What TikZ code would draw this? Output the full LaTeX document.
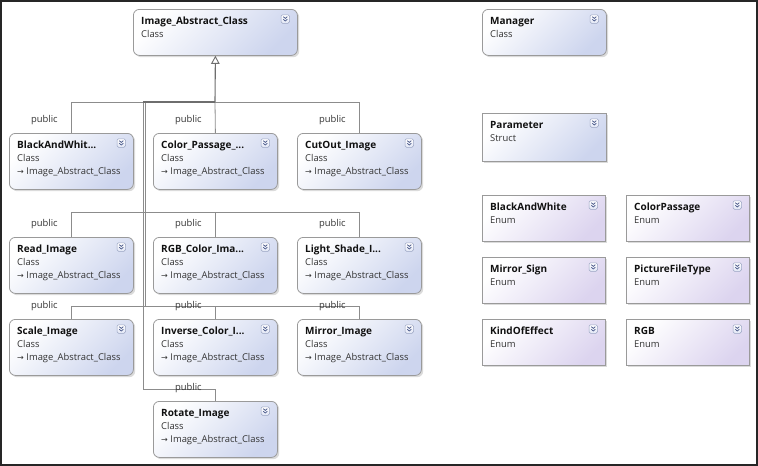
\documentclass[tikz,border=0pt]{standalone}
\usepackage{fontspec}
\setmainfont{Open Sans}
\newfontfamily\symfont{DejaVu Sans}
\usetikzlibrary{shadows,arrows.meta}

\definecolor{clsB}{HTML}{CDD5EE}
\definecolor{enmB}{HTML}{DCD4EF}
\definecolor{bdr}{HTML}{9A9A9A}
\definecolor{lnc}{HTML}{8C8C8C}
\definecolor{lnd}{HTML}{6E6E6E}
\definecolor{chb}{HTML}{9AA4C2}
\definecolor{chl}{HTML}{4A5A8A}
\definecolor{txt}{HTML}{111111}
\definecolor{sbt}{HTML}{333333}

\tikzset{
  boxbase/.style={draw=bdr, line width=0.8pt, inner sep=0pt, anchor=north west,
    minimum width=124pt,
    drop shadow={shadow xshift=1.8pt, shadow yshift=-1.8pt, fill=black!35, opacity=0.4}},
  clsbox/.style={boxbase, minimum height=56pt, rounded corners=6pt,
    left color=white, right color=clsB, shading angle=45},
  absbox/.style={clsbox, minimum height=46pt},
  strbox/.style={boxbase, minimum height=48pt,
    left color=white, right color=clsB, shading angle=45},
  enmbox/.style={boxbase, minimum width=123pt, minimum height=46pt,
    left color=white, right color=enmB, shading angle=45},
  ttl/.style={anchor=base west, inner sep=0pt, text=txt,
    font=\fontsize{10}{12}\selectfont\bfseries},
  sub/.style={anchor=base west, inner sep=0pt, text=sbt,
    font=\fontsize{9.4}{11}\selectfont},
  pub/.style={inner sep=0pt, text=sbt, font=\fontsize{9.4}{11}\selectfont},
  chev/.style={draw=chb, line width=0.5pt, inner sep=0pt, minimum size=8.5pt,
    rounded corners=1.5pt, top color=white, bottom color=clsB!60},
  chevl/.style={draw=chl, line width=0.75pt},
  conn/.style={draw=lnc, line width=0.8pt},
  connd/.style={draw=lnd, line width=1.1pt},
  frame/.style={draw=black!85, line width=2pt}
}

\newcommand\inh{{\symfont\fontsize{8}{9}\selectfont →}\hspace{2.5pt}}

\newcommand\boxtext[3]{%
  \node[ttl] (#1-t) at ([xshift=8pt,yshift=-15.8pt]#1.north west) {#2};
  \node[sub] (#1-k) at ([xshift=8pt,yshift=-28.8pt]#1.north west) {#3};
  \node[chev] (#1-c) at ([xshift=-12.5pt,yshift=-10pt]#1.north east) {};
  \draw[chevl] ([shift={(-2pt,2.3pt)}]#1-c.center) -- ([shift={(0pt,0.6pt)}]#1-c.center) -- ([shift={(2pt,2.3pt)}]#1-c.center);
  \draw[chevl] ([shift={(-2pt,-0.3pt)}]#1-c.center) -- ([shift={(0pt,-2pt)}]#1-c.center) -- ([shift={(2pt,-0.3pt)}]#1-c.center);
}
\newcommand\basetext[1]{%
  \node[sub] (#1-b) at ([xshift=8pt,yshift=-41.8pt]#1.north west) {\inh Image\_Abstract\_Class};
}
\newcommand\publabel[1]{%
  \node[pub] (#1-p) at ([xshift=-27pt,yshift=13pt]#1.north) {public};
}

\begin{document}
\begin{tikzpicture}[x=1pt,y=-1pt]
\useasboundingbox (0,0) rectangle (758,466);
\fill[white] (0,0) rectangle (758,466);

% boxes
\node[absbox, minimum width=164pt] (abs) at (133,9) {};
\node[clsbox] (bw)  at (9,133) {};
\node[clsbox] (cp)  at (153,133) {};
\node[clsbox] (co)  at (297,133) {};
\node[clsbox] (rd)  at (9,237) {};
\node[clsbox] (rgb) at (153,237) {};
\node[clsbox] (ls)  at (297,237) {};
\node[clsbox] (sc)  at (9,319) {};
\node[clsbox] (ic)  at (153,319) {};
\node[clsbox] (mi)  at (297,319) {};
\node[clsbox] (ro)  at (153,401) {};

\node[absbox] (mgr) at (482,9) {};
\node[strbox] (par) at (482,113) {};
\node[enmbox] (ebw) at (482,195) {};
\node[enmbox] (ecp) at (626,195) {};
\node[enmbox] (ems) at (482,257) {};
\node[enmbox] (epf) at (626,257) {};
\node[enmbox] (eke) at (482,319) {};
\node[enmbox] (ergb) at (626,319) {};

% connectors
\coordinate (hub) at (215,102);
\coordinate (ta) at (143,102);
\coordinate (tb) at (145.5,102);
\coordinate (r2) at (144,212);
\coordinate (r3) at (144,306);
\coordinate (r4) at (143,389);
\coordinate (tb3) at (145.5,306);

\draw[conn] (bw.north) |- (hub);
\draw[conn] (cp.north) -- (hub);
\draw[conn] (co.north) |- (hub);
\draw[conn] (rd.north) |- (r2);
\draw[conn] (rgb.north) |- (r2);
\draw[conn] (ls.north) |- (r2);
\draw[conn] (sc.north) |- (r3);
\draw[conn] (ic.north) |- (r3);
\draw[conn] (mi.north) |- (r3);
\draw[conn] (ro.north) |- (r4);
\draw[conn] (r4) -- (ta);
\draw[conn] (tb3) -- (tb);
\draw[connd] (ta) -- (hub);
\draw[connd, -{Triangle[open, length=8pt, width=8.5pt, line width=0.9pt]}, fill=white] (hub) -- (abs.south);

% texts
\boxtext{abs}{Image\_Abstract\_Class}{Class}
\boxtext{bw}{BlackAndWhit...}{Class}\basetext{bw}
\boxtext{cp}{Color\_Passage\_...}{Class}\basetext{cp}
\boxtext{co}{CutOut\_Image}{Class}\basetext{co}
\boxtext{rd}{Read\_Image}{Class}\basetext{rd}
\boxtext{rgb}{RGB\_Color\_Ima...}{Class}\basetext{rgb}
\boxtext{ls}{Light\_Shade\_I...}{Class}\basetext{ls}
\boxtext{sc}{Scale\_Image}{Class}\basetext{sc}
\boxtext{ic}{Inverse\_Color\_I...}{Class}\basetext{ic}
\boxtext{mi}{Mirror\_Image}{Class}\basetext{mi}
\boxtext{ro}{Rotate\_Image}{Class}\basetext{ro}

\boxtext{mgr}{Manager}{Class}
\boxtext{par}{Parameter}{Struct}
\boxtext{ebw}{BlackAndWhite}{Enum}
\boxtext{ecp}{ColorPassage}{Enum}
\boxtext{ems}{Mirror\_Sign}{Enum}
\boxtext{epf}{PictureFileType}{Enum}
\boxtext{eke}{KindOfEffect}{Enum}
\boxtext{ergb}{RGB}{Enum}

% public labels
\publabel{bw}\publabel{cp}\publabel{co}
\publabel{rd}\publabel{rgb}\publabel{ls}
\publabel{sc}\publabel{ic}\publabel{mi}
\publabel{ro}

% frame
\draw[frame] (1,1) rectangle (757,465);
\end{tikzpicture}
\end{document}
